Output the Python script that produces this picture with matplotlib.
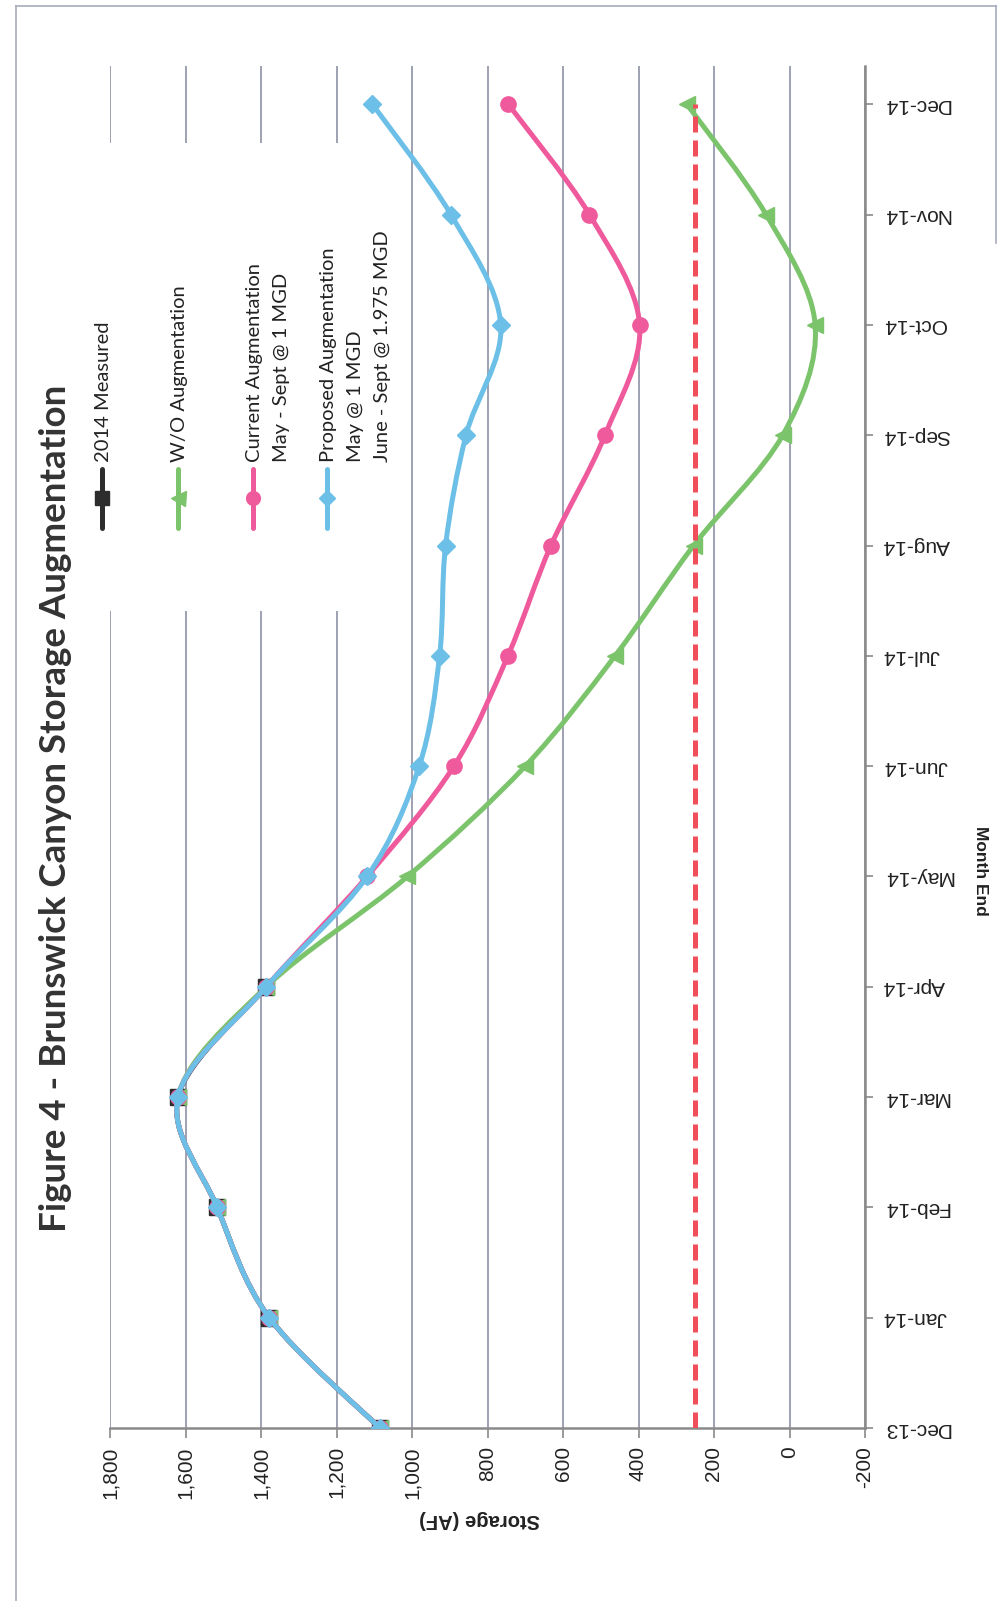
import matplotlib.pyplot as plt
from matplotlib.path import Path
from matplotlib.patches import PathPatch, Rectangle
from matplotlib.lines import Line2D
from matplotlib.ticker import FuncFormatter

# month-end storage, acre-feet
months = ["Dec-13", "Jan-14", "Feb-14", "Mar-14", "Apr-14", "May-14", "Jun-14",
          "Jul-14", "Aug-14", "Sep-14", "Oct-14", "Nov-14", "Dec-14"]
measured = [1085, 1378, 1516, 1620, 1386]
without_aug = [1085, 1378, 1516, 1620, 1386, 1012, 700, 462, 254, 18, -68, 62, 272]
current_aug = [1085, 1378, 1516, 1620, 1386, 1119, 889, 746, 632, 489, 397, 530, 745]
proposed_aug = [1085, 1378, 1516, 1620, 1386, 1119, 981, 927, 911, 857, 765, 897, 1105]
min_storage = [250] * len(months)

legend_labels = [["2014 Measured"],
                 ["W/O Augmentation"],
                 ["Current Augmentation", "May - Sept @ 1 MGD"],
                 ["Proposed Augmentation", "May @ 1 MGD", "June - Sept @ 1.975 MGD"]]

BLACK = "#2d2d2d"
GREEN = "#7cc46c"
PINK = "#ef5a9c"
BLUE = "#6cbfe6"
RED = "#f04e5a"
GRID = "#8d91a4"
AXIS = "#8a8a8a"


def smooth_line(ax, values, color, lw=3.6, z=3):
    # excel-style smoothed line: cubic bezier through every point
    pts = [(v, i) for i, v in enumerate(values)]
    n = len(pts)
    verts = [pts[0]]
    codes = [Path.MOVETO]
    for i in range(n - 1):
        p0 = pts[max(i - 1, 0)]
        p1 = pts[i]
        p2 = pts[i + 1]
        p3 = pts[min(i + 2, n - 1)]
        c1 = (p1[0] + (p2[0] - p0[0]) / 6, p1[1] + (p2[1] - p0[1]) / 6)
        c2 = (p2[0] - (p3[0] - p1[0]) / 6, p2[1] - (p3[1] - p1[1]) / 6)
        verts += [c1, c2, p2]
        codes += [Path.CURVE4] * 3
    ax.add_patch(PathPatch(Path(verts, codes), fill=False, edgecolor=color, lw=lw,
                           capstyle="round", joinstyle="round", zorder=z))


fig = plt.figure(figsize=(10, 16.01), dpi=100)
ax = fig.add_axes([0.110, 0.108, 0.755, 0.851])

series = [
    (measured, BLACK, "s", 11),
    (without_aug, GREEN, "<", 12),
    (current_aug, PINK, "o", 11),
    (proposed_aug, BLUE, "D", 9),
]
for k, (vals, col, mk, ms) in enumerate(series):
    smooth_line(ax, vals, col, z=3 + k)
    ax.plot(vals, range(len(vals)), linestyle="none", marker=mk, ms=ms,
            color=col, zorder=3.5 + k)

ax.plot(min_storage, range(len(months)), color=RED, lw=3.6,
        linestyle=(0, (3.2, 1.6)), zorder=8)

ax.set_xlim(1800, -200)
ax.set_ylim(0, 12.35)
ax.set_xticks(range(-200, 1801, 200))
ax.xaxis.set_major_formatter(FuncFormatter(lambda v, p: f"{v:,.0f}"))
ax.set_yticks(range(len(months)))
ax.set_yticklabels(months)
ax.yaxis.tick_right()

ax.set_axisbelow(True)
ax.grid(axis="x", color=GRID, lw=1.2)
ax.grid(axis="y", visible=False)
for s in ["left", "top"]:
    ax.spines[s].set_visible(False)
for s in ["bottom", "right"]:
    ax.spines[s].set_color(AXIS)
    ax.spines[s].set_linewidth(1.8)

ax.tick_params(axis="x", direction="out", length=7, width=1.2, color=AXIS,
               labelrotation=90, labelsize=15, pad=6, labelcolor="#222222")
ax.tick_params(axis="y", direction="out", length=6, width=1.2, color=AXIS,
               labelsize=15, pad=7, labelcolor="#222222")
for lab in ax.get_yticklabels():
    lab.set_rotation(180)
    lab.set_va("center")
for lab in ax.get_xticklabels() + ax.get_yticklabels():
    lab.set_family(["Liberation Sans", "DejaVu Sans"])

# legend sits inside the plot area on a white patch
ax.add_patch(Rectangle((-0.022, 0.600), 0.397, 0.343, transform=ax.transAxes,
                       facecolor="white", edgecolor="none", zorder=1))
legend_x = [-0.0106, 0.090, 0.189, 0.287]
line_step = 0.0362
for (vals, col, mk, ms), lx, lines in zip(series, legend_x, legend_labels):
    ax.add_line(Line2D([lx, lx], [0.661, 0.704], transform=ax.transAxes,
                       color=col, lw=3.6, solid_capstyle="round", clip_on=False, zorder=9))
    ax.plot([lx], [0.6826], transform=ax.transAxes, marker=mk, ms=ms * 0.9,
            color=col, clip_on=False, zorder=9)
    for j, txt in enumerate(lines):
        ax.text(lx + j * line_step, 0.709, txt, transform=ax.transAxes, rotation=90,
                rotation_mode="anchor", ha="left", va="center_baseline",
                fontsize=14.5, family=["Lato", "DejaVu Sans"], color="#222222", zorder=9)

fig.text(0.056, 0.495, "Figure 4 - Brunswick Canyon Storage Augmentation",
         rotation=90, ha="center", va="center", fontsize=26.5, fontweight="bold",
         family=["Lato", "DejaVu Sans"], color="#333333")
fig.text(0.48, 0.051, "Storage (AF)", rotation=180, ha="center", va="center",
         fontsize=14.5, fontweight="bold",
         family=["Liberation Sans", "DejaVu Sans"], color="#222222")
fig.text(0.981, 0.456, "Month End", rotation=270, ha="center", va="center",
         fontsize=12.5, fontweight="bold",
         family=["Liberation Sans", "DejaVu Sans"], color="#222222")

# scanned page frame
frame = dict(color="#a8abbb", lw=1.2)
fig.add_artist(Line2D([0.016, 0.016], [0.0, 0.9963], **frame))
fig.add_artist(Line2D([0.016, 0.996], [0.9963, 0.9963], **frame))
fig.add_artist(Line2D([0.996, 0.996], [0.9963, 0.848], **frame))

fig.savefig("out.png", dpi=100)
